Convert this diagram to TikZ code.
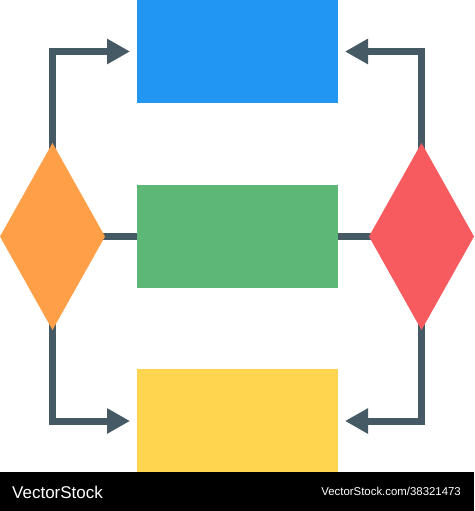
\documentclass[tikz,border=0pt]{standalone}
\usepackage{fontspec}
\setmainfont{Liberation Sans}
\usetikzlibrary{shapes.geometric,arrows.meta}
\pgfdeclarelayer{background}
\pgfsetlayers{background,main}
\definecolor{boxblue}{HTML}{2196F3}
\definecolor{boxgreen}{HTML}{5DB877}
\definecolor{boxyellow}{HTML}{FFD54F}
\definecolor{dorange}{HTML}{FFA048}
\definecolor{dred}{HTML}{F75B60}
\definecolor{slate}{HTML}{455A64}
\begin{document}
\begin{tikzpicture}[x=1pt,y=-1pt,
  box/.style={rectangle,inner sep=0pt,outer sep=0pt,minimum width=201pt,minimum height=103pt},
  dia/.style={diamond,inner sep=0pt,outer sep=0pt,minimum width=105pt,minimum height=187pt,shape aspect=0.56},
  conn/.style={draw=slate,line width=7pt,line join=miter},
  arr/.style={conn,-{Triangle[length=23pt,width=24pt]}},
  wmtext/.style={text=white,inner sep=0pt}]
\useasboundingbox (0,0) rectangle (474,511);
\node[box,fill=boxblue] (blue) at (237.5,51.5) {};
\node[box,fill=boxgreen] (green) at (237.5,236.5) {};
\node[box,fill=boxyellow,minimum height=104pt] (yellow) at (237.5,421) {};
\node[dia,fill=dorange] (left) at (52.5,236.5) {};
\node[dia,fill=dred] (right) at (421.5,236.5) {};
\begin{pgfonlayer}{background}
\draw[arr] (left.center) |- ([xshift=-7pt]blue.west);
\draw[arr] (left.center) |- ([xshift=-7pt]yellow.west);
\draw[arr] (right.center) |- ([xshift=7pt]blue.east);
\draw[arr] (right.center) |- ([xshift=7pt]yellow.east);
\draw[conn] (left.center) -- (green.west);
\draw[conn] (green.east) -- (right.center);
\end{pgfonlayer}
\fill[black] (0,472) rectangle (474,511);
\node[wmtext,anchor=west,font=\fontsize{17}{17}\selectfont] (brand) at (12,492) {VectorStock};
\node[wmtext,anchor=east,font=\fontsize{11.4}{12}\selectfont] (url) at (461,491) {VectorStock.com/38321473};
\end{tikzpicture}
\end{document}
